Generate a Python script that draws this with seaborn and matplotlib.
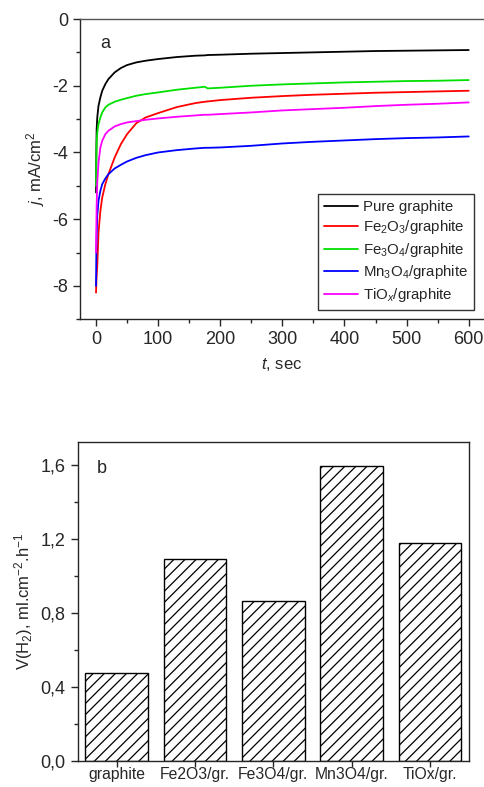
import numpy as np
import pandas as pd
import seaborn as sns
import matplotlib.pyplot as plt
from matplotlib.ticker import MultipleLocator, FuncFormatter

# --- data ---
t = [0, 0.5, 1, 2, 4, 7, 10, 15, 20, 30, 40, 50, 65, 80, 100, 130, 160,
     175, 180, 200, 250, 300, 350, 400, 450, 500, 550, 600]

j_pure = [-5.2, -4.0, -3.3, -2.95, -2.6, -2.35, -2.15, -1.95, -1.8, -1.6, -1.47,
          -1.38, -1.3, -1.25, -1.2, -1.14, -1.1, -1.09, -1.08, -1.07, -1.04,
          -1.02, -1.0, -0.98, -0.96, -0.95, -0.94, -0.93]
j_fe2o3 = [-8.2, -7.9, -7.7, -7.4, -6.4, -5.75, -5.35, -4.95, -4.65, -4.15, -3.75,
           -3.45, -3.12, -2.95, -2.82, -2.64, -2.52, -2.48, -2.47, -2.43, -2.36,
           -2.31, -2.27, -2.24, -2.21, -2.19, -2.17, -2.15]
j_fe3o4 = [-5.0, -4.2, -3.7, -3.4, -3.15, -2.95, -2.8, -2.65, -2.57, -2.48, -2.42,
           -2.37, -2.3, -2.25, -2.2, -2.12, -2.06, -2.03, -2.08, -2.06, -2.0,
           -1.96, -1.93, -1.9, -1.88, -1.86, -1.85, -1.83]
j_mn3o4 = [-8.0, -7.0, -6.5, -5.9, -5.45, -5.15, -4.95, -4.78, -4.65, -4.48, -4.37,
           -4.27, -4.16, -4.08, -4.0, -3.93, -3.88, -3.86, -3.86, -3.85, -3.8,
           -3.73, -3.68, -3.64, -3.6, -3.57, -3.55, -3.52]
j_tiox = [-7.0, -6.2, -5.6, -4.9, -4.3, -3.85, -3.65, -3.45, -3.35, -3.22, -3.15,
          -3.1, -3.06, -3.02, -2.98, -2.93, -2.89, -2.87, -2.87, -2.85, -2.8,
          -2.74, -2.7, -2.66, -2.61, -2.57, -2.54, -2.5]

series_labels = ['Pure graphite', 'Fe$_2$O$_3$/graphite', 'Fe$_3$O$_4$/graphite',
                 'Mn$_3$O$_4$/graphite', 'TiO$_x$/graphite']
series_colors = ['#000000', '#ff0000', '#00e000', '#0000ff', '#ff00ff']

bar_labels = ['graphite', 'Fe2O3/gr.', 'Fe3O4/gr.', 'Mn3O4/gr.', 'TiOx/gr.']
bar_values = [0.475, 1.09, 0.865, 1.59, 1.178]

# --- style ---
sns.set_style('ticks')
plt.rcParams['font.family'] = ['Liberation Sans', 'DejaVu Sans']
plt.rcParams['mathtext.fontset'] = 'custom'
plt.rcParams['mathtext.rm'] = 'Liberation Sans'
plt.rcParams['mathtext.it'] = 'Liberation Sans:italic'
plt.rcParams['axes.unicode_minus'] = False
plt.rcParams['hatch.linewidth'] = 0.9
plt.rcParams['axes.linewidth'] = 1.0

fig = plt.figure(figsize=(4.84, 7.87), dpi=100)

# --- panel a ---
ax1 = fig.add_axes([80 / 484, 1 - 319.3 / 787, 404 / 484, 300.3 / 787])
df = pd.DataFrame({
    't': t * 5,
    'j': j_pure + j_fe2o3 + j_fe3o4 + j_mn3o4 + j_tiox,
    'sample': np.repeat(series_labels, len(t)),
})
sns.lineplot(data=df, x='t', y='j', hue='sample', hue_order=series_labels,
             palette=series_colors, linewidth=1.3, ax=ax1, sort=False)

ax1.set_xlim(-25.8, 624.6)
ax1.set_ylim(-9, 0)
ax1.xaxis.set_major_locator(MultipleLocator(100))
ax1.xaxis.set_minor_locator(MultipleLocator(50))
ax1.yaxis.set_major_locator(MultipleLocator(2))
ax1.yaxis.set_minor_locator(MultipleLocator(1))
ax1.tick_params(which='major', direction='out', length=5, width=1, labelsize=13)
ax1.tick_params(which='minor', direction='out', length=3, width=1)
ax1.spines['right'].set_visible(False)
ax1.spines['top'].set_color('#555555')
ax1.set_xlabel('$\\it{t}$, sec', fontsize=12, labelpad=6)
ax1.set_ylabel('$\\it{j}$, mA/cm$^2$', fontsize=12, labelpad=4)
ax1.text(0.05, 0.905, 'a', transform=ax1.transAxes, fontsize=13)

leg = ax1.legend(loc='lower right', bbox_to_anchor=(0.975, 0.031), borderaxespad=0,
                 fontsize=10.8, fancybox=False, edgecolor='#333333', framealpha=1,
                 handlelength=2.3, labelspacing=0.3, handletextpad=0.3,
                 borderpad=0.4)
leg.get_frame().set_linewidth(1.0)
for line in leg.get_lines():
    line.set_linewidth(1.3)

# --- panel b ---
ax2 = fig.add_axes([77.5 / 484, 1 - 761 / 787, 391.5 / 484, 318.7 / 787])
sns.barplot(x=bar_labels, y=bar_values, color='white', edgecolor='black',
            linewidth=1.0, width=0.8, ax=ax2, saturation=1)
for p in ax2.patches:
    p.set_hatch('///')
    p.set_facecolor('white')

ax2.set_xlim(-0.5, 4.5)
ax2.set_ylim(0, 1.72)
ax2.yaxis.set_major_locator(MultipleLocator(0.4))
ax2.yaxis.set_minor_locator(MultipleLocator(0.2))
ax2.yaxis.set_major_formatter(FuncFormatter(lambda v, pos: f'{v:.1f}'.replace('.', ',')))
ax2.tick_params(axis='y', which='major', direction='out', length=5, width=1, labelsize=13)
ax2.tick_params(axis='y', which='minor', direction='out', length=3, width=1)
ax2.tick_params(axis='x', which='major', direction='out', length=4, width=1,
                labelsize=11.3, pad=0.5)
for s in ax2.spines.values():
    s.set_visible(True)
ax2.set_ylabel('V(H$_2$), ml.cm$^{-2}$.h$^{-1}$', fontsize=12, labelpad=4)
ax2.text(0.05, 0.905, 'b', transform=ax2.transAxes, fontsize=13)

fig.savefig('out.png', dpi=100)
